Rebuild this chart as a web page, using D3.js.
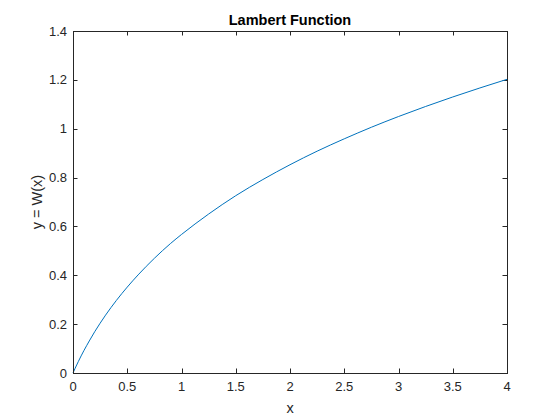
<!DOCTYPE html>
<html lang="en">
<head>
<meta charset="UTF-8">
<title>Lambert Function</title>
<script src="https://d3js.org/d3.v7.min.js"></script>
<style>
  body { margin: 0; background: #fff; }
  text { font-family: "Liberation Sans", Arial, Helvetica, sans-serif; fill: #262626; }
</style>
</head>
<body>
<svg width="560" height="420"></svg>
<script>
// data
var xs = [0, 0.02, 0.05, 0.1, 0.15, 0.2, 0.25, 0.3, 0.4, 0.5, 0.6, 0.75, 0.9, 1,
          1.25, 1.5, 1.75, 2, 2.25, 2.5, 2.75, 3, 3.25, 3.5, 3.75, 4];
var ys = [0, 0.0196, 0.0477, 0.0913, 0.1311, 0.1689, 0.2039, 0.2368, 0.2972, 0.3517, 0.4016, 0.4696, 0.5305, 0.5671,
          0.6507, 0.7259, 0.7920, 0.8526, 0.9081, 0.9586, 1.0060, 1.0499, 1.0910, 1.1299, 1.1668, 1.2022];
var xTicks = [0, 0.5, 1, 1.5, 2, 2.5, 3, 3.5, 4];
var yTicks = [0, 0.2, 0.4, 0.6, 0.8, 1, 1.2, 1.4];

var svg = d3.select('svg');
// plot box (note: "top" is reserved on window, so use other names)
var boxL = 73, boxR = 507, boxT = 31, boxB = 373;

var x = d3.scaleLinear().domain([0, 4]).range([boxL, boxR]);
var y = d3.scaleLinear().domain([0, 1.4]).range([boxB, boxT]);

var tickLen = 4.5;
var axisColor = '#262626';

// ticks (inward, on all four sides)
var g = svg.append('g').attr('stroke', axisColor).attr('stroke-width', 1);
xTicks.forEach(function(t) {
    var px = Math.round(x(t)) + 0.5;
    g.append('line').attr('x1', px).attr('x2', px).attr('y1', boxB).attr('y2', boxB - tickLen);
    g.append('line').attr('x1', px).attr('x2', px).attr('y1', boxT).attr('y2', boxT + tickLen);
});
yTicks.forEach(function(t) {
    var py = Math.round(y(t)) + 0.5;
    g.append('line').attr('x1', boxL).attr('x2', boxL + tickLen).attr('y1', py).attr('y2', py);
    g.append('line').attr('x1', boxR).attr('x2', boxR - tickLen).attr('y1', py).attr('y2', py);
});

// curve
var line = d3.line()
    .x(function(d) { return x(d[0]); })
    .y(function(d) { return y(d[1]); })
    .curve(d3.curveMonotoneX);

svg.append('path')
    .datum(d3.zip(xs, ys))
    .attr('d', line)
    .attr('fill', 'none')
    .attr('stroke', '#0072BD')
    .attr('stroke-width', 1);

// box
svg.append('rect')
    .attr('x', boxL + 0.5).attr('y', boxT + 0.5)
    .attr('width', boxR - boxL).attr('height', boxB - boxT)
    .attr('fill', 'none').attr('stroke', axisColor).attr('stroke-width', 1);

// tick labels
svg.append('g').selectAll('text')
    .data(xTicks).join('text')
    .attr('x', function(d) { return x(d); })
    .attr('y', boxB + 18)
    .attr('text-anchor', 'middle')
    .attr('font-size', 13)
    .text(function(d) { return d; });

svg.append('g').selectAll('text')
    .data(yTicks).join('text')
    .attr('x', boxL - 6)
    .attr('y', function(d) { return y(d) + 4.5; })
    .attr('text-anchor', 'end')
    .attr('font-size', 13)
    .text(function(d) { return d; });

// labels
svg.append('text')
    .attr('x', (boxL + boxR) / 2).attr('y', 413)
    .attr('text-anchor', 'middle').attr('font-size', 14.5)
    .text('x');

svg.append('text')
    .attr('transform', 'translate(42,' + (boxT + boxB) / 2 + ') rotate(-90)')
    .attr('text-anchor', 'middle').attr('font-size', 14.5)
    .text('y = W(x)');

svg.append('text')
    .attr('x', (boxL + boxR) / 2).attr('y', 25)
    .attr('text-anchor', 'middle').attr('font-size', 14.5).attr('font-weight', 'bold')
    .style('fill', '#000')
    .text('Lambert Function');
</script>
</body>
</html>
